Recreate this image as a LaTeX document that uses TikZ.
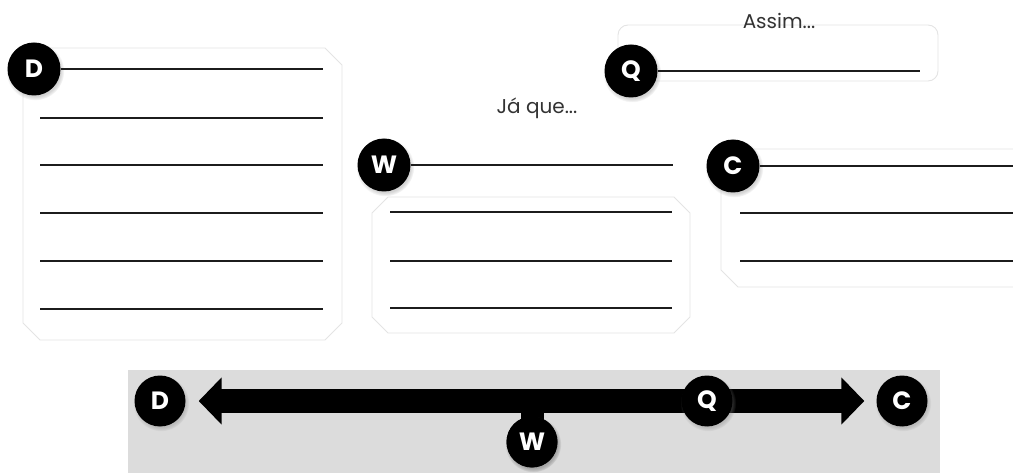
\documentclass[tikz,border=0pt]{standalone}
\usepackage{fontspec}
\setmainfont{Poppins}
\usetikzlibrary{arrows.meta,shadows}
\definecolor{boxline}{HTML}{E4E4E4}
\definecolor{bargray}{HTML}{DCDCDC}
\definecolor{rule}{HTML}{1C1C1C}
\tikzset{
  badge/.style={circle,fill=black,minimum size=53pt,inner sep=0pt,text=white,
    font=\fontsize{25}{27}\selectfont\bfseries,
    circular drop shadow={shadow xshift=1pt,shadow yshift=-2pt,opacity=.35}},
  smallbadge/.style={badge,minimum size=51pt},
  panel/.style={draw=boxline,line width=0.9pt,fill=white},
  ruleline/.style={draw=rule,line width=2.2pt},
  caption/.style={font=\fontsize{20}{22}\selectfont,text=black!80}
}
\begin{document}
\begin{tikzpicture}[x=1pt,y=-1pt]
\useasboundingbox (0,0) rectangle (1013,473);
% panels
\path[panel] (40,48) -- (325,48) -- (342,65) -- (342,323) -- (325,340) -- (40,340) -- (23,323) -- (23,65) -- cycle;
\path[panel] (388,197) -- (674,197) -- (690,213) -- (690,317) -- (674,333) -- (388,333) -- (372,317) -- (372,213) -- cycle;
\path[panel] (738,149) -- (1030,149) -- (1030,287) -- (738,287) -- (721,270) -- (721,166) -- cycle;
\path[panel,rounded corners=10pt] (618,25) rectangle (938,81);
% captions
\node[caption] (assim) at (779,21) {Assim...};
\node[caption] (jaque) at (537,108) {Já que...};
% top badges
\node[badge] (D) at (34,69) {D};
\node[badge] (Q) at (631,71) {Q};
\node[badge] (W) at (384,165) {W};
\node[badge] (C) at (733,166) {C};
% ruled lines
\coordinate (dE) at (323,69);
\coordinate (qE) at (920,71);
\coordinate (wE) at (673,165);
\coordinate (cE) at (1013,166);
\draw[ruleline] (D.east) -- (dE);
\draw[ruleline] (Q.east) -- (qE);
\draw[ruleline] (W.east) -- (wE);
\draw[ruleline] (C.east) -- (cE);
\foreach \y in {118,165,213,261,309}{\draw[ruleline] (40,\y) -- (323,\y);}
\foreach \y in {212,261,308}{\draw[ruleline] (390,\y) -- (672,\y);}
\foreach \y in {213,261}{\draw[ruleline] (740,\y) -- (1013,\y);}
% bottom bar
\fill[bargray] (128,370) rectangle (940,473);
\node[smallbadge] (bD) at (160,401) {D};
\node[smallbadge] (bC) at (902,401) {C};
\node[smallbadge] (bW) at (532,442) {W};
\draw[black,line width=23pt] (bW.center) -- ++(0,-38);
\draw[black,line width=24pt,
  {Triangle[length=23pt,width=46pt]}-{Triangle[length=23pt,width=46pt]},
  shorten <=13pt, shorten >=12pt] (bD.east) -- (bC.west);
\node[smallbadge] (bQ) at (707,401) {Q};
\node[smallbadge] at (532,442) {W};
\end{tikzpicture}
\end{document}
